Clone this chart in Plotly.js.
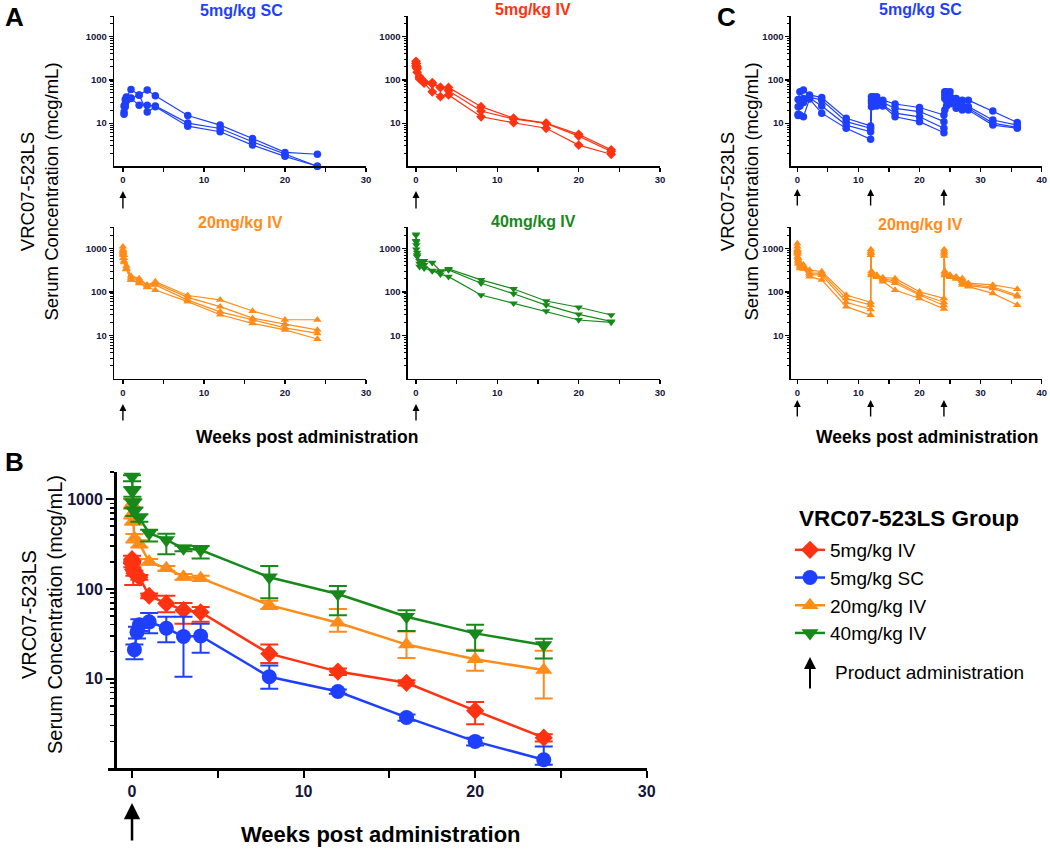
<!DOCTYPE html>
<html>
<head>
<meta charset="utf-8">
<script src="https://cdn.plot.ly/plotly-3.0.1.min.js"></script>
<style>
  html, body { margin: 0; padding: 0; background: #fff; }
  #chart { width: 1050px; height: 849px; }
</style>
</head>
<body>
<div id="chart"></div>
<script>
var W = 1050, H = 849;
var FONT = 'Liberation Sans, Arial, sans-serif';

var BLUE = '#1f3fff', RED = '#ff3311', ORANGE = '#ff8c1a', GREEN = '#17891a';

// ---- panel B: group means with error bars (mcg/mL) ----
var weeksB_IV = [0, 0.02, 0.07, 0.14, 0.43, 1, 2, 3, 4, 8, 12, 16, 20, 24];
var weeksB_SC = [0.14, 0.29, 0.43, 1, 2, 3, 4, 8, 12, 16, 20, 24];

var iv5Mean  = [215, 190, 165, 150, 135, 84, 69, 58, 55, 19, 12, 9, 4.4, 2.2];
var iv5Plus  = [20, 15, 50, 10, 8, 5, 15, 12, 8, 5, 1, 0.6, 1.1, 0.2];
var iv5Minus = [20, 15, 54, 10, 8, 5, 14, 17, 12, 4, 1, 0.6, 1.3, 0.2];

var sc5Mean  = [21, 33, 40, 43, 36.5, 29.5, 30, 10.5, 7.2, 3.7, 2.0, 1.25];
var sc5Plus  = [3, 5, 6, 11, 12.5, 19.5, 11, 3.5, 0.4, 0.3, 0.2, 0.5];
var sc5Minus = [4.5, 5, 6, 11, 11, 19, 10.5, 2.8, 0.4, 0.3, 0.2, 0.15];

var iv20Mean  = [900, 700, 580, 370, 320, 201, 170, 137, 132, 66, 42, 24, 16.5, 12.5];
var iv20Plus  = [110, 90, 60, 40, 30, 15, 10, 10, 8, 8, 18, 9.5, 4.5, 8];
var iv20Minus = [110, 90, 60, 40, 30, 15, 10, 10, 8, 6, 8.6, 7, 4.2, 6.5];

var iv40Mean  = [1790, 1220, 900, 730, 620, 418, 352, 284, 272, 135, 88, 49, 32, 23.8];
var iv40Plus  = [60, 150, 100, 80, 60, 40, 60, 20, 30, 45, 20, 9, 8, 4];
var iv40Minus = [200, 150, 100, 80, 60, 80, 108, 20, 54, 56, 37, 15, 11.5, 7];

// ---- panel A: individual animals ----
var weeksA_IV = [0, 0.04, 0.14, 0.43, 1, 2, 3, 4, 8, 12, 16, 20, 24];
var weeksA_SC = [0.14, 0.29, 0.43, 1, 2, 3, 4, 8, 12, 16, 20, 24];

var sc5_1 = [25, 35, 40, 60, 45, 58, 43, 15, 9, 4.4, 2.1, 1.9];
var sc5_2 = [18, 28, 35, 37, 26, 26, 25, 10, 7.5, 3.7, 1.9, 1.0];
var sc5_3 = [16, 24, 33, 38, 44, 18, 24, 8.5, 6.3, 3.1, 1.7, 1.0];

var iv5_1 = [270, 240, 200, 120, 88, 87, 67, 67, 24, 13, 10, 5.5, 2.4];
var iv5_2 = [240, 215, 180, 115, 91, 80, 67, 56, 19, 12.5, 9.8, 5.0, 2.2];
var iv5_3 = [210, 190, 150, 105, 84, 53, 41, 45, 14, 10.2, 7.6, 3.1, 1.9];

var iv20_1 = [1100, 900, 700, 400, 233, 205, 145, 173, 83, 66, 36.5, 23, 23];
var iv20_2 = [950, 800, 600, 350, 210, 190, 140, 160, 75, 46, 25, 18.3, 13.4];
var iv20_3 = [850, 700, 520, 330, 190, 165, 130, 145, 65, 35, 23, 15, 11.2];
var iv20_4 = [750, 600, 480, 340, 189, 158, 128, 111, 60, 30, 19, 13.4, 8.3];

var iv40_1 = [2100, 1400, 800, 520, 515, 470, 303, 338, 190, 117, 62, 44.5, 29.5];
var iv40_2 = [2000, 1200, 700, 450, 420, 303, 290, 320, 159, 91, 50, 30.6, 21];
var iv40_3 = [1500, 950, 650, 380, 350, 310, 255, 225, 85, 55, 36.5, 22.7, 20];

// ---- panel C: repeat dosing at weeks 0, 12, 24 ----
var weeksC_SC = [0.14, 0.43, 1, 2, 4, 8, 12, 12.14, 12.43, 13, 14, 16, 20, 24,
                 24.14, 24.43, 25, 26, 27, 28, 32, 36];
var weeksC_IV = [0, 0.04, 0.14, 0.43, 1, 2, 4, 8, 12, 12.04, 12.14, 13, 14, 16, 20, 24,
                 24.04, 24.14, 25, 26, 27, 28, 32, 36];

var cSc_1 = [35, 53, 58, 45, 39, 12.9, 8.6, 41, 41, 41, 34, 27.7, 23, 15.4, 53, 53, 53, 37, 34, 34, 19, 10.3];
var cSc_2 = [24, 34, 37, 40, 34, 10.8, 7.6, 34, 33, 31, 30, 22, 18.5, 10.8, 45, 42, 41, 29, 26, 24, 11.8, 9];
var cSc_3 = [16, 25, 30, 38, 25, 9, 6.3, 29, 28, 27, 26, 17, 14, 7.6, 37, 33, 31, 25, 22, 22, 10, 8];
var cSc_4 = [15, 15.5, 14, 36, 17, 7.6, 4.2, 24, 25, 25, 25, 14, 10.8, 6.0, 20, 25, 28, 22, 20, 20, 9, 7.6];

var cIv_1 = [1300, 900, 600, 450, 420, 320, 295, 85, 58, 950, 300, 245, 215, 205, 101, 71, 950, 300, 245, 225, 205, 159, 145, 117];
var cIv_2 = [1100, 850, 550, 420, 380, 270, 270, 71, 50, 850, 270, 230, 200, 180, 90, 58, 850, 280, 230, 215, 180, 150, 130, 85];
var cIv_3 = [950, 750, 500, 380, 350, 250, 245, 58, 40, 780, 250, 225, 190, 159, 85, 49, 760, 250, 225, 205, 160, 140, 121, 78];
var cIv_4 = [800, 650, 450, 350, 340, 225, 190, 46, 29.5, 700, 240, 220, 173, 111, 71, 41, 680, 240, 220, 200, 145, 133, 93, 50];

var doseWeeksA = [0];
var doseWeeksC = [0, 12, 24];

// ---------------------------------------------------------------
function px(v) { return v / W; }
function py(v) { return 1 - v / H; }

var logMinor = [];
for (var d = 1; d <= 1000; d *= 10) {
  for (var m = 2; m <= 9; m++) logMinor.push(m * d);
}

function xAxis(left, right, range, anchor, big) {
  return {
    domain: [px(left), px(right)], range: range, anchor: anchor,
    showline: true, linecolor: '#000', linewidth: big ? 2.5 : 1.3,
    showgrid: false, zeroline: false, fixedrange: true,
    ticks: 'outside', ticklen: big ? 7 : 4, tickwidth: big ? 2 : 1.2, tickcolor: '#000',
    tickmode: 'linear', tick0: 0, dtick: 10,
    minor: {ticks: 'outside', ticklen: big ? 7 : 4, tickwidth: big ? 2 : 1.2,
            tickcolor: '#000', tick0: 0, dtick: 5, showgrid: false},
    tickfont: {family: FONT, size: big ? 16 : 9.5, weight: 'bold', color: '#15153a'}
  };
}

function yAxis(top, bottom, logTop, anchor, big) {
  return {
    type: 'log', domain: [py(bottom), py(top)], range: [0, logTop], anchor: anchor,
    showline: true, linecolor: '#000', linewidth: big ? 2.5 : 1.3,
    showgrid: false, zeroline: false, fixedrange: true,
    ticks: 'outside', ticklen: big ? 8 : 4, tickwidth: big ? 2 : 1.2, tickcolor: '#000',
    tickmode: 'array', tickvals: [10, 100, 1000], ticktext: ['10', '100', '1000'],
    minor: {tickmode: 'array', tickvals: logMinor, ticks: 'outside',
            ticklen: big ? 4 : 2.5, tickwidth: big ? 1.6 : 1, tickcolor: '#000', showgrid: false},
    tickfont: {family: FONT, size: big ? 16 : 9.5, weight: 'bold', color: '#15153a'}
  };
}

function animal(x, y, xa, ya, color, symbol) {
  return {
    x: x, y: y, xaxis: xa, yaxis: ya, type: 'scatter', mode: 'lines+markers',
    line: {color: color, width: 1.2},
    marker: {color: color, symbol: symbol, size: 7.5},
    cliponaxis: false, showlegend: false, hoverinfo: 'skip'
  };
}

function group(name, x, y, plus, minus, color, symbol, size) {
  return {
    name: name, x: x, y: y, xaxis: 'x7', yaxis: 'y7',
    type: 'scatter', mode: 'lines+markers',
    line: {color: color, width: 2.5},
    marker: {color: color, symbol: symbol, size: size},
    error_y: {type: 'data', symmetric: false, array: plus, arrayminus: minus,
              color: color, thickness: 2, width: 9},
    cliponaxis: false, hoverinfo: 'skip'
  };
}

var data = [];
[sc5_1, sc5_2, sc5_3].forEach(function (s) { data.push(animal(weeksA_SC, s, 'x', 'y', BLUE, 'circle')); });
[iv5_1, iv5_2, iv5_3].forEach(function (s) { data.push(animal(weeksA_IV, s, 'x2', 'y2', RED, 'diamond')); });
[iv20_1, iv20_2, iv20_3, iv20_4].forEach(function (s) { data.push(animal(weeksA_IV, s, 'x3', 'y3', ORANGE, 'triangle-up')); });
[iv40_1, iv40_2, iv40_3].forEach(function (s) { data.push(animal(weeksA_IV, s, 'x4', 'y4', GREEN, 'triangle-down')); });
[cSc_1, cSc_2, cSc_3, cSc_4].forEach(function (s) { data.push(animal(weeksC_SC, s, 'x5', 'y5', BLUE, 'circle')); });
[cIv_1, cIv_2, cIv_3, cIv_4].forEach(function (s) { data.push(animal(weeksC_IV, s, 'x6', 'y6', ORANGE, 'triangle-up')); });

data.push(group('5mg/kg IV', weeksB_IV, iv5Mean, iv5Plus, iv5Minus, RED, 'diamond', 14));
data.push(group('5mg/kg SC', weeksB_SC, sc5Mean, sc5Plus, sc5Minus, BLUE, 'circle', 15));
data.push(group('20mg/kg IV', weeksB_IV, iv20Mean, iv20Plus, iv20Minus, ORANGE, 'triangle-up', 15));
data.push(group('40mg/kg IV', weeksB_IV, iv40Mean, iv40Plus, iv40Minus, GREEN, 'triangle-down', 15));

// ---- annotations ----
function label(text, x, y, size, bold, color, extra) {
  var a = {text: text, xref: 'paper', yref: 'paper', x: px(x), y: py(y),
           xanchor: 'center', yanchor: 'middle', showarrow: false,
           font: {family: FONT, size: size, color: color || '#000', weight: bold ? 'bold' : 'normal'}};
  for (var k in extra) a[k] = extra[k];
  return a;
}

function arrow(xref, week, tipY, tailY, w, s) {
  return {xref: xref, yref: 'paper', x: week, y: py(tipY), ax: 0, ay: tailY - tipY,
          axref: 'pixel', ayref: 'pixel', text: '', showarrow: true,
          arrowhead: 2, arrowsize: s, arrowwidth: w, arrowcolor: '#000'};
}

var ann = [
  label('A', 14, 0, 26, true, '#000', {yanchor: 'top'}),
  label('B', 14, 445, 26, true, '#000', {yanchor: 'top'}),
  label('C', 726, 0, 26, true, '#000', {yanchor: 'top'}),
  label('5mg/kg SC', 241, 11, 16, true, BLUE),
  label('5mg/kg IV', 533, 10, 16, true, RED),
  label('20mg/kg IV', 240, 223, 16, true, ORANGE),
  label('40mg/kg IV', 533, 221, 16, true, GREEN),
  label('5mg/kg SC', 920, 10, 16, true, BLUE),
  label('20mg/kg IV', 920, 224, 16, true, ORANGE),
  label('VRC07-523LS<br>Serum Concentration (mcg/mL)', 38.5, 192, 18.5, false, '#000', {textangle: -90}),
  label('VRC07-523LS<br>Serum Concentration (mcg/mL)', 738.5, 192, 18.5, false, '#000', {textangle: -90}),
  label('VRC07-523LS<br>Serum Concentration (mcg/mL)', 42, 615, 20, false, '#000', {textangle: -90}),
  label('Weeks post administration', 307, 437, 17.5, true),
  label('Weeks post administration', 927, 437, 17.5, true),
  label('Weeks post administration', 381, 834, 22, true),
  label('VRC07-523LS Group', 797, 518, 22.5, true, '#000', {xanchor: 'left'}),
  label('Product administration', 833, 672, 19, false, '#000', {xanchor: 'left'})
];

doseWeeksA.forEach(function (wk) {
  ann.push(arrow('x', wk, 191, 210, 1.4, 1));
  ann.push(arrow('x2', wk, 191, 210, 1.4, 1));
  ann.push(arrow('x3', wk, 404, 422, 1.4, 1));
  ann.push(arrow('x4', wk, 404, 422, 1.4, 1));
  ann.push(arrow('x7', wk, 803, 842, 2.5, 1.3));
});
doseWeeksC.forEach(function (wk) {
  ann.push(arrow('x5', wk, 189, 207, 1.4, 1));
  ann.push(arrow('x6', wk, 400, 418, 1.4, 1));
});
ann.push({xref: 'paper', yref: 'paper', x: px(810), y: py(657), ax: 0, ay: 33,
          axref: 'pixel', ayref: 'pixel', text: '', showarrow: true,
          arrowhead: 2, arrowsize: 1.2, arrowwidth: 2, arrowcolor: '#000'});

var layout = {
  width: W, height: H,
  margin: {l: 0, r: 0, t: 0, b: 0},
  paper_bgcolor: '#fff', plot_bgcolor: 'rgba(0,0,0,0)',
  font: {family: FONT, color: '#000'},
  showlegend: true,
  legend: {
    x: px(790), y: py(531), xanchor: 'left', yanchor: 'top',
    traceorder: 'normal',
    font: {family: FONT, size: 19, color: '#000'},
    bgcolor: 'rgba(0,0,0,0)', itemwidth: 30
  },
  xaxis:  xAxis(114, 366, [-1.1, 30], 'y', false),
  yaxis:  yAxis(15.7, 166.3, 3.486, 'x', false),
  xaxis2: xAxis(407.7, 660, [-1.02, 30], 'y2', false),
  yaxis2: yAxis(15.7, 166.3, 3.486, 'x2', false),
  xaxis3: xAxis(114, 366, [-1.1, 30], 'y3', false),
  yaxis3: yAxis(226.7, 379, 3.50, 'x3', false),
  xaxis4: xAxis(407.7, 660, [-1.02, 30], 'y4', false),
  yaxis4: yAxis(226.7, 379, 3.50, 'x4', false),
  xaxis5: xAxis(790.7, 1041.7, [-1.08, 40], 'y5', false),
  yaxis5: yAxis(15.7, 166.3, 3.486, 'x5', false),
  xaxis6: xAxis(790.7, 1041.7, [-1.08, 40], 'y6', false),
  yaxis6: yAxis(226.7, 379, 3.50, 'x6', false),
  xaxis7: xAxis(108, 646.7, [-1.4, 30], 'y7', true),
  yaxis7: yAxis(472, 768.4, 3.304, 'free', true),
  annotations: ann
};
layout.yaxis7.position = px(115);

Plotly.newPlot('chart', data, layout, {displayModeBar: false, staticPlot: true});
</script>
</body>
</html>
